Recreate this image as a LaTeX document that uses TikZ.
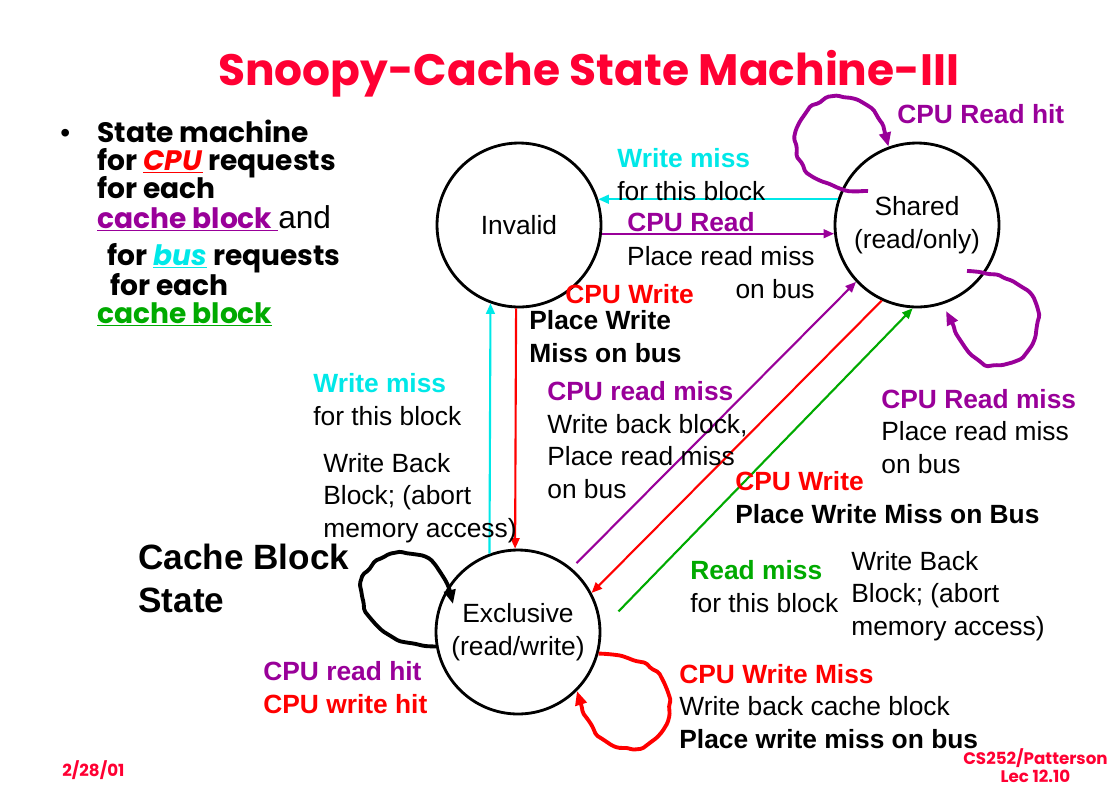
\documentclass[tikz,border=0pt]{standalone}
\usepackage{fontspec}
\setmainfont{Liberation Sans}
\newfontfamily\comicfont{Poppins}
\usetikzlibrary{arrows.meta, decorations.pathmorphing}

\definecolor{titlered}{RGB}{255,0,51}
\definecolor{cpured}{RGB}{255,0,0}
\definecolor{buspurple}{RGB}{153,0,153}
\definecolor{buscyan}{RGB}{0,232,232}
\definecolor{busgreen}{RGB}{0,170,0}

\tikzset{
    state/.style={circle, draw=black, line width=1.6pt, minimum size=3.28cm, inner sep=0pt,
        align=center, font=\fontsize{15}{18.5}\selectfont},
    lbl/.style={anchor=base west, inner sep=0pt, align=left, font=\fontsize{15}{18.5}\selectfont},
    comic/.style={anchor=base west, inner sep=0pt, font=\comicfont\bfseries\fontsize{16}{19}\selectfont},
    edge/.style={line width=1.2pt, -{Triangle[length=6pt,width=5pt]}},
    selfloop/.style={line width=2.2pt, -{Triangle[length=8pt,width=6.5pt]},
        decorate, decoration={random steps, segment length=5pt, amplitude=0.9pt,
        pre length=2pt, post length=9pt}, rounded corners=1pt}
}

\begin{document}
\begin{tikzpicture}[x=0.02cm, y=-0.02cm]
    \pgfmathsetseed{12}
    \fill[white] (0,0) rectangle (1110,796);
    \useasboundingbox (0,0) rectangle (1110,796);

% title and bullet

    \node[anchor=base west, inner sep=0pt, font=\comicfont\bfseries\fontsize{25}{30}\selectfont, text=titlered]
        (title) at (218,85) {Snoopy-Cache State Machine-III};

    \node[anchor=base west, inner sep=0pt, font=\fontsize{16}{19}\selectfont] (dot) at (60,142) {\textbullet};
    \node[comic] (ln1) at (97,142) {State machine};
    \node[comic] (ln2) at (97,170) {for \textcolor{cpured}{\underline{\textit{CPU}}} requests};
    \node[comic] (ln3) at (97,198) {for each};
    \node[comic] (ln4) at (97,228) {\textcolor{buspurple}{\underline{cache block\ }}{\rmfamily\mdseries\fontsize{18}{20}\selectfont and}};
    \node[comic] (ln5) at (107,265) {for \textcolor{buscyan}{\underline{\textit{bus}}} requests};
    \node[comic] (ln6) at (110,295) {for each};
    \node[comic] (ln7) at (97,323) {\textcolor{busgreen}{\underline{cache block}}};

% states

    \node[state] (inv) at (519,225) {Invalid};
    \node[state] (sh) at (917,225) {Shared\\(read/only)};
    \node[state] (ex) at (518,632) {Exclusive\\(read/write)};

    \coordinate (shloopa) at (868,191);
    \coordinate (shloopb) at (967,271);
    \coordinate (shloopbend) at (946,311);
    \coordinate (exloopend) at (453,604);

% transitions

    \draw[edge, buscyan] (sh.162) -- (inv.18);
    \draw[edge, buspurple] (inv.-6) -- (sh.186);
    \draw[edge, buscyan] (ex.110) -- (inv.-110);
    \draw[edge, cpured] (inv.-92) -- (ex.92);
    \draw[edge, buspurple, shorten <=4pt] (ex.50) -- (sh.223);
    \draw[edge, cpured] (sh.245) -- (ex.28);
    \draw[edge, busgreen, shorten <=14pt] (ex.2) -- (sh.267);

% self loops

    \draw[selfloop, buspurple] (shloopa) to[out=180,in=-80] (797,148) to[out=100,in=180] (840,97) to[out=0,in=100] (sh.110);
    \draw[selfloop, buspurple] (shloopb) to[out=0,in=90] (1038,318) to[out=-90,in=0] (997,365) to[out=180,in=-60] (shloopbend);
    \draw[selfloop, black] (ex.190) to[out=180,in=-80] (362,595) to[out=100,in=180] (403,553) to[out=0,in=100] (exloopend);
    \draw[selfloop, cpured] (ex.-15) to[out=0,in=90] (669,703) to[out=-90,in=0] (630,748) to[out=180,in=-75] (ex.-45);

% labels (multi-line nodes sit on their last baseline)

    \node[lbl] (wmtop) at (617,200) {\textcolor{buscyan}{\textbf{Write miss}}\\for this block};
    \node[lbl] (cpurd) at (627,231) {\textcolor{buspurple}{\textbf{CPU Read}}};
    \node[lbl, align=right, anchor=base east] (prmtop) at (815,298) {Place read miss\\on bus};
    \node[lbl] (cpuwr) at (565,303) {\textcolor{cpured}{\textbf{CPU Write}}};
    \node[lbl] (pwm) at (529,362) {\textbf{Place Write}\\\textbf{Miss on bus}};

    \node[lbl] (wmleft) at (313,425) {\textcolor{buscyan}{\textbf{Write miss}}\\for this block};
    \node[lbl] (wbleft) at (323,537) {Write Back\\Block; (abort\\memory access)};
    \node[lbl] (crm) at (547,498) {\textcolor{buspurple}{\textbf{CPU read miss}}\\Write back block,\\Place read miss\\on bus};

    \node[lbl] (rdhit) at (897,123) {\textcolor{buspurple}{\textbf{CPU Read hit}}};
    \node[lbl] (crmsh) at (881,473) {\textcolor{buspurple}{\textbf{CPU Read miss}}\\Place read miss\\on bus};
    \node[lbl] (cpuwrsh) at (735,523) {\textcolor{cpured}{\textbf{CPU Write}}\\\textbf{Place Write Miss on Bus}};
    \node[lbl] (rmgreen) at (690,612) {\textcolor{busgreen}{\textbf{Read miss}}\\for this block};
    \node[lbl] (wbright) at (851,635) {Write Back\\Block; (abort\\memory access)};

    \node[lbl] (cwm) at (679,748) {\textcolor{cpured}{\textbf{CPU Write Miss}}\\Write back cache block\\\textbf{Place write miss on bus}};
    \node[lbl] (hits) at (263,713) {\textcolor{buspurple}{\textbf{CPU read hit}}\\\textcolor{cpured}{\textbf{CPU write hit}}};
    \node[lbl, font=\fontsize{20}{24}\selectfont\bfseries] (cbs) at (138,612) {Cache Block\\State};

% footer

    \node[anchor=base west, inner sep=0pt, font=\comicfont\bfseries\fontsize{9.5}{11}\selectfont, text=titlered]
        (date) at (62,776) {2/28/01};
    \node[anchor=base east, inner sep=0pt, align=center, font=\comicfont\bfseries\fontsize{9.5}{10}\selectfont, text=titlered]
        (lec) at (1108,782) {CS252/Patterson\\Lec 12.10};

\end{tikzpicture}
\end{document}
